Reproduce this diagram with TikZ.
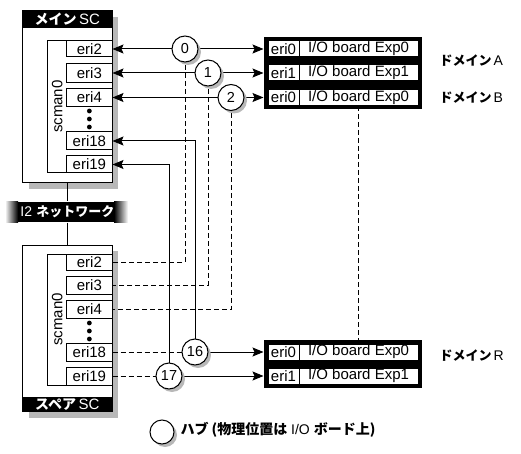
\documentclass[tikz,border=0pt]{standalone}
\usepackage{fontspec}
\setmainfont{Liberation Sans}
\newfontfamily\jp{Noto Sans CJK JP}
\usetikzlibrary{arrows.meta,calc}
\newcommand\jb[1]{{\jp\bfseries #1}}
\begin{document}
\begin{tikzpicture}[x=1pt,y=-1pt,
  line width=1pt,
  txt/.style={font=\fontsize{15}{15}\selectfont, inner sep=0pt},
  jtxt/.style={font=\fontsize{13}{13}\selectfont, inner sep=0pt},
  cellbox/.style={draw, fill=white, minimum width=45.3pt, inner sep=0pt, font=\fontsize{15}{15}\selectfont},
  scbox/.style={draw, fill=white, minimum width=89.3pt, inner sep=0pt},
  shadowc/.style={fill=black!28, draw=none},
  hub/.style={circle, draw, fill=white, minimum size=26pt, inner sep=0pt, font=\fontsize{14.5}{14.5}\selectfont},
  dombox/.style={fill=black, draw=none, minimum width=158pt, inner sep=0pt},
  ecell/.style={draw, fill=white, minimum width=31pt, minimum height=16pt, inner sep=0pt, font=\fontsize{15}{15}\selectfont},
  iocell/.style={draw, fill=white, minimum width=119pt, minimum height=16pt, inner sep=0pt, font=\fontsize{15}{15}\selectfont},
  arr/.style={-{Stealth[length=11pt,width=9pt,inset=2pt]}},
  dsh/.style={dash pattern=on 5pt off 3pt}
]
\useasboundingbox (0,0) rectangle (521,454);

% ---------- shadows of SC boxes
\fill[shadowc] (28.7,16.7) rectangle (118,188.7);
\fill[shadowc] (28.7,251) rectangle (118,417.7);

% ---------- Main SC
\node[scbox, minimum height=172pt] (M) at (67.35,96.7) {};
\fill[black] (M.north west) rectangle (112,28.3);
\node[txt, white] (Mh) at (67.35,19.5) {\jb{\fontsize{14}{14}\selectfont メイン}\,SC};
\draw (47.7,40.7) rectangle (112,172.7);
\node[txt, rotate=90] (Mscman) at (57.2,106.7) {scman0};
\node[cellbox, minimum height=16pt] (m2)  at (89.35,49)   {eri2};
\node[cellbox, minimum height=19pt] (m3)  at (89.35,73)   {eri3};
\node[cellbox, minimum height=18pt] (m4)  at (89.35,97.5) {eri4};
\node[cellbox, minimum height=18pt] (m18) at (89.35,141)  {eri18};
\node[cellbox, minimum height=17pt] (m19) at (89.35,164.5){eri19};
\foreach \yy in {111,119,127} \fill (89.35,\yy) circle (2.4);

% ---------- I2 network band
\shade[left color=white, right color=black] (5,202) rectangle (18,222);
\fill[black] (18,202) rectangle (114,222);
\shade[left color=black, right color=white] (114,202) rectangle (128,222);
\node[txt, white, minimum height=20pt] (net) at (67.35,212) {{\fontsize{14}{14}\selectfont I2} \jb{\fontsize{13}{13}\selectfont ネットワーク}};

% ---------- Spare SC
\node[scbox, minimum height=166.7pt] (S) at (67.35,328.35) {};
\fill[black] (22.7,396.7) rectangle (S.south east);
\node[txt, white] (Sf) at (67.35,404.2) {\jb{\fontsize{14}{14}\selectfont スペア}\,SC};
\draw (47.7,254) rectangle (112,385);
\node[txt, rotate=90] (Sscman) at (57.2,319.5) {scman0};
\node[cellbox, minimum height=16pt] (s2)  at (89.35,262) {eri2};
\node[cellbox, minimum height=18pt] (s3)  at (89.35,285) {eri3};
\node[cellbox, minimum height=18pt] (s4)  at (89.35,309) {eri4};
\node[cellbox, minimum height=18pt] (s18) at (89.35,352) {eri18};
\node[cellbox, minimum height=18pt] (s19) at (89.35,376) {eri19};
\foreach \yy in {323,331,339} \fill (89.35,\yy) circle (2.4);

\draw (M.south) -- (net.north);
\draw (net.south) -- (S.north);

% ---------- Domain boxes
\node[dombox, minimum height=48pt] (A) at (343,61) {};
\node[ecell]  (A0e) at (283.5,49) {eri0};
\node[iocell] (A0i) at (358.5,49) {I/O board Exp0};
\node[ecell]  (A1e) at (283.5,73) {eri1};
\node[iocell] (A1i) at (358.5,73) {I/O board Exp1};
\node[jtxt, anchor=west] (Alab) at (439,61) {\jb{ドメイン}\,{\fontsize{14}{14}\selectfont A}};

\node[dombox, minimum height=24pt] (B) at (343,97.5) {};
\node[ecell]  (B0e) at (283.5,97.5) {eri0};
\node[iocell] (B0i) at (358.5,97.5) {I/O board Exp0};
\node[jtxt, anchor=west] (Blab) at (439,98) {\jb{ドメイン}\,{\fontsize{14}{14}\selectfont B}};

\node[dombox, minimum height=48pt] (R) at (343,364) {};
\node[ecell]  (R0e) at (283.5,352) {eri0};
\node[iocell] (R0i) at (358.5,352) {I/O board Exp0};
\node[ecell]  (R1e) at (283.5,376) {eri1};
\node[iocell] (R1i) at (358.5,376) {I/O board Exp1};
\node[jtxt, anchor=west] (Rlab) at (439,356) {\jb{ドメイン}\,{\fontsize{14}{14}\selectfont R}};

\draw[dsh] (B0i.south) -- (R0i.north);

% ---------- hub coordinates
\coordinate (c0) at (185,49);
\coordinate (c1) at (208,73);
\coordinate (c2) at (231,97.5);
\coordinate (c16) at (195,352);
\coordinate (c17) at (169,376);

% ---------- connectors (drawn before hubs)
\draw[dsh] (c0) |- (s2.east);
\draw[dsh] (c1) |- (s3.east);
\draw[dsh] (c2) |- (s4.east);
\draw[dsh] (s18.east) -- (c16);
\draw[dsh] (s19.east) -- (c17);
\draw[arr] (c16) |- (m18.east);
\draw[arr] (c17) |- (m19.east);
\draw[arr] (c0) -- (m2.east);
\draw[arr] (c1) -- (m3.east);
\draw[arr] (c2) -- (m4.east);
\draw[arr] (c0) -- (A.west |- c0);
\draw[arr] (c1) -- (A.west |- c1);
\draw[arr] (c2) -- (B.west |- c2);
\draw[arr] (c16) -- (R.west |- c16);
\draw[arr] (c17) -- (R.west |- c17);

% ---------- hubs
\foreach \c/\n in {c0/0,c1/1,c2/2,c16/16,c17/17}{
  \fill[shadowc] ($(\c)+(3,3)$) circle (13);
  \node[hub] (h\n) at (\c) {\n};
}

% ---------- legend
\coordinate (cl) at (162,432);
\fill[shadowc] ($(cl)+(3,3)$) circle (12);
\node[hub, minimum size=24pt] (hl) at (cl) {};
\node[anchor=west, inner sep=0pt, font=\fontsize{14}{14}\selectfont] (leg) at (180,430) {\jb{ハブ (物理位置は} I/O \jb{ボード上)}};
\end{tikzpicture}
\end{document}
